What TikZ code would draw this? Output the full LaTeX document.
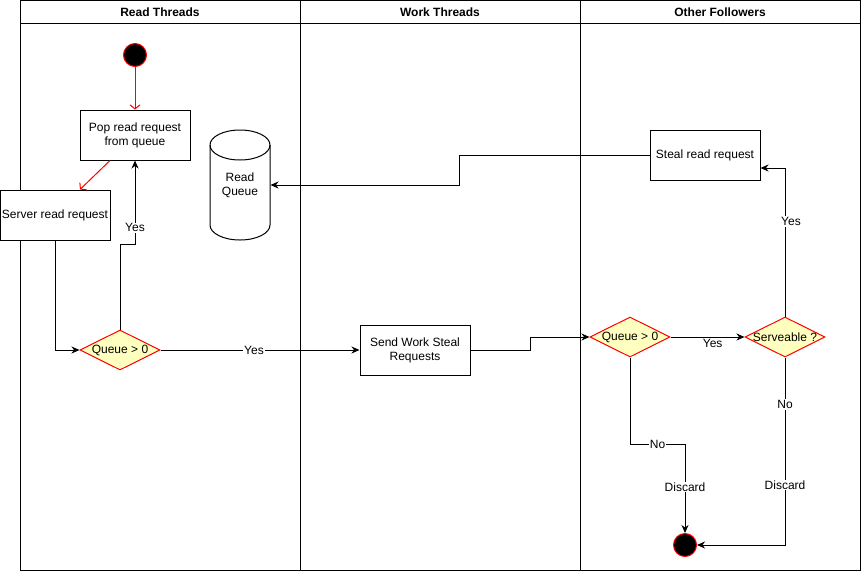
\documentclass[tikz,border=0pt]{standalone}
\usepackage{fontspec}
\setmainfont{Liberation Sans}
\usetikzlibrary{shapes.geometric, arrows.meta}
\usetikzlibrary{positioning}

\begin{document}
\begin{tikzpicture}[x=1pt, y=-1pt, line width=1pt, font=\fontsize{12}{14}\selectfont]

	\definecolor{decfill}{RGB}{255,255,192}
	\definecolor{decline}{RGB}{255,0,0}

	\tikzset{
		actbox/.style={draw, fill=white, minimum width=110pt, minimum height=50pt, align=center, inner sep=1pt},
		decision/.style={diamond, draw=decline, fill=decfill, aspect=2, minimum width=80pt, minimum height=40pt, inner xsep=-4pt, inner ysep=0pt},
		dot/.style={circle, fill=black, draw=decline, minimum size=23pt, inner sep=0pt},
		flow/.style={-{Stealth[length=8pt, width=7pt, inset=2.5pt]}},
		redflow/.style={draw=decline, -{Straight Barb[length=4pt, width=10pt]}},
		lbl/.style={fill=white, inner sep=1pt}
	}

	\fill[white] (0,0) rectangle (861,571);
	\useasboundingbox (0,0) rectangle (861,571);

	% swimlanes
	\draw (20,0) rectangle (860,570);
	\draw (20,23) -- (860,23);
	\draw (300,0) -- (300,570);
	\draw (580,0) -- (580,570);
	\node(hread) [font=\bfseries\fontsize{12}{14}\selectfont] at (160,12) {Read Threads};
	\node(hwork) [font=\bfseries\fontsize{12}{14}\selectfont] at (440,12) {Work Threads};
	\node(hother) [font=\bfseries\fontsize{12}{14}\selectfont] at (720,12) {Other Followers};

	% read threads
	\node(start) [dot] at (135,55) {};
	\node(pop) [actbox] at (135,135) {Pop read request\\from queue};
	\node(serve) [actbox] at (55,215) {Server read request};
	\node(chk1) [decision] at (120,350) {Queue > 0};

	\draw[fill=white] (210,145) -- (210,225) arc[start angle=180, end angle=360, x radius=30pt, y radius=15pt]
		-- (270,145) arc[start angle=0, end angle=180, x radius=30pt, y radius=15pt] -- cycle;
	\draw (210,145) arc[start angle=180, end angle=360, x radius=30pt, y radius=15pt];
	\node(queue) [align=center, minimum width=60pt, minimum height=110pt] at (240,185) {Read\\Queue};

	% work threads
	\node(send) [actbox] at (415,350) {Send Work Steal\\Requests};

	% other followers
	\node(steal) [actbox] at (705,155) {Steal read request};
	\node(chk2) [decision] at (630,337) {Queue > 0};
	\node(serv) [decision] at (785,337) {Serveable ?};
	\node(finish) [dot] at (685,545) {};

	\draw[redflow] (start) -- (pop);
	\draw[redflow] ([xshift=-25pt]pop.south) -- ([xshift=25pt]serve.north);
	\draw[flow] (serve.south) |- (chk1.west);
	\draw[flow] (chk1.north) -- ++(0,-85) -| node[lbl, pos=0.6]{Yes} (pop.south);
	\draw[flow] (chk1.east) -- node[lbl, pos=0.47]{Yes} (send.west);
	\draw[flow] (send.east) -- ++(60,0) |- (chk2.west);
	\draw[flow] (chk2.east) -- node[lbl, pos=0.57, yshift=-6pt]{Yes} (serv.west);
	\draw[flow] (chk2.south) -- ++(0,87) -| node[lbl, pos=0.25]{No} node[lbl, pos=0.74]{Discard} (finish.north);
	\draw[flow] (serv.north) |- node[lbl, pos=0.32, xshift=6pt]{Yes} ([yshift=-13pt]steal.east);
	\draw[flow] (serv.south) |- node[lbl, pos=0.125]{No} node[lbl, pos=0.34]{Discard} (finish.east);
	\draw[flow] (steal.west) -- ++(-190,0) |- (queue.east);

\end{tikzpicture}
\end{document}
